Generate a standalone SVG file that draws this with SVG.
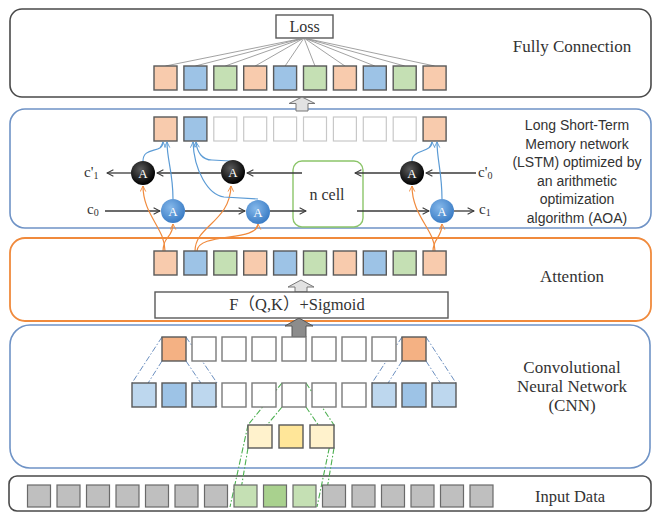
<svg xmlns="http://www.w3.org/2000/svg" width="654" height="517" viewBox="0 0 654 517">
<defs>
<style>
.serif{font-family:"Liberation Serif","Noto Sans CJK SC",serif;fill:#333}
.sans{font-family:"Liberation Sans",Arial,sans-serif;fill:#333}
.lbl{font-size:17px}
.sq{stroke:#595959;stroke-width:1.4}
.or{fill:#f8cbad}.bl{fill:#9dc3e6}.gr{fill:#c5e0b4}
.wh{fill:#fff;stroke:#c8c8c8;stroke-width:1.2}
.cw{fill:#fff;stroke:#7a7a7a;stroke-width:1.4}
.co{fill:#f4b183}.lb{fill:#bdd7ee}.ly{fill:#fff2cc}.yy{fill:#ffe699}
.gy{fill:#bfbfbf;stroke:#6a6a6a;stroke-width:1.2}
.g1{fill:#c5e0b4;stroke:#6a6a6a;stroke-width:1.2}
.g2{fill:#a9d18e;stroke:#6a6a6a;stroke-width:1.2}
.fc{stroke:#8a8a8a;stroke-width:0.8;fill:none}
.hl{stroke:#3a3a3a;stroke-width:1.3;fill:none;marker-end:url(#ak)}
.ol{stroke:#f08a3c;stroke-width:1.2;fill:none;marker-end:url(#ao)}
.bll{stroke:#5b9bd5;stroke-width:1.2;fill:none;marker-end:url(#ab)}
.bdd{stroke:#6b8fc0;stroke-width:1;fill:none;stroke-dasharray:6 2 1.5 2}
.gdd{stroke:#4caf50;stroke-width:1.1;fill:none;stroke-dasharray:6 2 1.5 2}
</style>
<marker id="ak" viewBox="0 0 10 10" refX="9" refY="5" markerWidth="8" markerHeight="8" markerUnits="userSpaceOnUse" orient="auto"><path d="M1,1 L9,5 L1,9" fill="none" stroke="#3a3a3a" stroke-width="1.3"/></marker>
<marker id="ao" viewBox="0 0 10 10" refX="9" refY="5" markerWidth="7" markerHeight="7" markerUnits="userSpaceOnUse" orient="auto"><path d="M1,1 L9,5 L1,9" fill="none" stroke="#f08a3c" stroke-width="1.3"/></marker>
<marker id="ab" viewBox="0 0 10 10" refX="9" refY="5" markerWidth="7" markerHeight="7" markerUnits="userSpaceOnUse" orient="auto"><path d="M1,1 L9,5 L1,9" fill="none" stroke="#5b9bd5" stroke-width="1.3"/></marker>
<radialGradient id="gBlack" cx="40%" cy="35%" r="65%"><stop offset="0" stop-color="#5a5a5a"/><stop offset="1" stop-color="#000"/></radialGradient>
<radialGradient id="gBlue" cx="40%" cy="35%" r="65%"><stop offset="0" stop-color="#85b8ea"/><stop offset="1" stop-color="#3b7dc6"/></radialGradient>
</defs>
<rect width="654" height="517" fill="#fff"/>

<!-- Panels -->
<g id="panel-fc"><rect x="10" y="9" width="641" height="88" rx="12" fill="none" stroke="#4a4a4a" stroke-width="1.6"/>
<text class="serif lbl" x="572" y="52" text-anchor="middle">Fully Connection</text></g>
<g id="panel-lstm"><rect x="10" y="109" width="641" height="119" rx="15" fill="none" stroke="#6f93c6" stroke-width="1.6"/>
<text class="sans" font-size="14" text-anchor="middle"><tspan x="577" y="130">Long Short-Term</tspan><tspan x="577" y="149">Memory network</tspan><tspan x="577" y="167">(LSTM) optimized by</tspan><tspan x="577" y="186">an arithmetic</tspan><tspan x="577" y="204">optimization</tspan><tspan x="577" y="223">algorithm (AOA)</tspan></text></g>
<g id="panel-attention"><rect x="10" y="238" width="641" height="83" rx="15" fill="none" stroke="#f08a3c" stroke-width="1.8"/>
<text class="serif lbl" x="572" y="282" text-anchor="middle">Attention</text></g>
<g id="panel-cnn"><rect x="10" y="325" width="640" height="143" rx="20" fill="none" stroke="#6f93c6" stroke-width="1.6"/>
<text class="serif lbl" text-anchor="middle"><tspan x="572" y="373">Convolutional</tspan><tspan x="572" y="392">Neural Network</tspan><tspan x="572" y="411">(CNN)</tspan></text></g>
<g id="panel-input"><rect x="9" y="476" width="642" height="35" rx="8" fill="none" stroke="#4a4a4a" stroke-width="1.6"/>
<text class="serif" x="570" y="502" font-size="16.5" text-anchor="middle">Input Data</text></g>

<!-- Fully connection -->
<g id="loss"><rect x="276" y="15" width="57" height="23" fill="#fff" stroke="#595959" stroke-width="1.4"/>
<text class="serif" x="304.5" y="32" font-size="16" text-anchor="middle">Loss</text></g>
<g id="fc-lines">
<path class="fc" d="M304,38 L165.5,66 M304,38 L195.4,66 M304,38 L225.3,66 M304,38 L255.2,66 M304,38 L285.1,66 M304,38 L315,66 M304,38 L344.9,66 M304,38 L374.8,66 M304,38 L404.7,66 M304,38 L434.6,66"/>
</g>
<g id="fc-squares">
<rect class="sq or" x="154" y="66" width="23" height="24"/>
<rect class="sq bl" x="183.9" y="66" width="23" height="24"/>
<rect class="sq gr" x="213.8" y="66" width="23" height="24"/>
<rect class="sq or" x="243.7" y="66" width="23" height="24"/>
<rect class="sq bl" x="273.6" y="66" width="23" height="24"/>
<rect class="sq gr" x="303.5" y="66" width="23" height="24"/>
<rect class="sq or" x="333.4" y="66" width="23" height="24"/>
<rect class="sq bl" x="363.3" y="66" width="23" height="24"/>
<rect class="sq gr" x="393.2" y="66" width="23" height="24"/>
<rect class="sq or" x="423.1" y="66" width="23" height="24"/>
</g>

<!-- block arrows -->
<g id="arrow-fc"><path d="M302,97 L315,103.5 L308,103.5 L308,111 L296,111 L296,103.5 L289,103.5 Z" fill="#e2e2e2" stroke="#777" stroke-width="1"/></g>
<g id="arrow-att"><path d="M301,280 L314,287 L307,287 L307,292 L295,292 L295,287 L288,287 Z" fill="#e2e2e2" stroke="#777" stroke-width="1"/></g>
<g id="arrow-cnn"><path d="M299,318 L313,326 L306,326 L306,337 L292,337 L292,326 L285,326 Z" fill="#8c8c8c" stroke="#555" stroke-width="1"/></g>

<!-- LSTM squares -->
<g id="lstm-squares">
<rect class="sq or" x="154" y="117" width="23" height="24"/>
<rect class="sq bl" x="183.9" y="117" width="23" height="24"/>
<rect class="wh" x="213.8" y="117" width="23" height="24"/>
<rect class="wh" x="243.7" y="117" width="23" height="24"/>
<rect class="wh" x="273.6" y="117" width="23" height="24"/>
<rect class="wh" x="303.5" y="117" width="23" height="24"/>
<rect class="wh" x="333.4" y="117" width="23" height="24"/>
<rect class="wh" x="363.3" y="117" width="23" height="24"/>
<rect class="wh" x="393.2" y="117" width="23" height="24"/>
<rect class="sq or" x="423.1" y="117" width="23" height="24"/>
</g>
<g id="ncell"><rect x="293" y="161" width="70" height="66" rx="9" fill="#fff" stroke="#8cc56a" stroke-width="1.4"/>
<text class="serif" x="327" y="200" font-size="16" text-anchor="middle">n cell</text></g>

<!-- connectors -->
<g id="connectors">
<path class="hl" d="M476,173 L426,173"/>
<path class="hl" d="M400,173 L355,173"/>
<path class="hl" d="M302,173 L247,173"/>
<path class="hl" d="M221,173 L157,173"/>
<path class="hl" d="M131,173 L107,173"/>
<path class="hl" d="M105,211 L160,211"/>
<path class="hl" d="M185,211 L245,211"/>
<path class="hl" d="M270,211 L306,211"/>
<path class="hl" d="M357,211 L429,211"/>
<path class="hl" d="M454,211 L474,211"/>
<path class="ol" d="M165,251 C165,228 143,215 143,186"/>
<path class="ol" d="M163,251 C163,236 173,238 173,224"/>
<path class="ol" d="M195,251 C195,226 230,222 231,186"/>
<path class="ol" d="M197,251 C198,232 258,242 258,224"/>
<path class="ol" d="M435,251 C435,230 412,216 412,186"/>
<path class="ol" d="M433,251 C433,238 442,238 442,224"/>
<path class="bll" d="M173,199 C173,172 167,160 167,142"/>
<path class="bll" d="M143,161 C143,146 163,154 163,142"/>
<path class="bll" d="M230,161 L212,160 C202,160 197,152 196,142"/>
<path class="bll" d="M258,199 L224,197 C208,195 194,170 193,142"/>
<path class="bll" d="M412,161 C412,149 432,153 432,142"/>
<path class="bll" d="M442,199 C442,172 437,160 437,142"/>
<path class="bdd" d="M162,337 L132,383 M162,361 L133,407 M186,337 L217,383 M186,361 L217,407"/>
<path class="bdd" d="M402,337 L372,383 M402,361 L373,407 M426,337 L456,383 M426,361 L456,407"/>
<path class="gdd" d="M282,383 L248,425 M282,407 L248,448 M306,383 L334,425 M306,407 L334,448"/>
<path class="gdd" d="M248,425 L230,507 M248,448 L238,507 M334,425 L317,507 M334,448 L324,507"/>
</g>

<!-- circles -->
<g id="black-a1"><circle cx="143" cy="173" r="12" fill="url(#gBlack)"/><text class="serif" x="143" y="178" font-size="13" text-anchor="middle" style="fill:#fff">A</text></g>
<g id="black-a2"><circle cx="233" cy="172" r="12" fill="url(#gBlack)"/><text class="serif" x="233" y="177" font-size="13" text-anchor="middle" style="fill:#fff">A</text></g>
<g id="black-a3"><circle cx="412" cy="173" r="12" fill="url(#gBlack)"/><text class="serif" x="412" y="178" font-size="13" text-anchor="middle" style="fill:#fff">A</text></g>
<g id="blue-a1"><circle cx="173" cy="211" r="12" fill="url(#gBlue)"/><text class="serif" x="173" y="216" font-size="13" text-anchor="middle" style="fill:#fff">A</text></g>
<g id="blue-a2"><circle cx="258" cy="212" r="12" fill="url(#gBlue)"/><text class="serif" x="258" y="217" font-size="13" text-anchor="middle" style="fill:#fff">A</text></g>
<g id="blue-a3"><circle cx="442" cy="211" r="12" fill="url(#gBlue)"/><text class="serif" x="442" y="216" font-size="13" text-anchor="middle" style="fill:#fff">A</text></g>

<!-- labels c -->
<g id="labels-c">
<text class="serif" x="84" y="177" font-size="15">c'<tspan font-size="10" dy="2">1</tspan></text>
<text class="serif" x="87" y="214" font-size="15">c<tspan font-size="10" dy="2">0</tspan></text>
<text class="serif" x="478" y="177" font-size="15">c'<tspan font-size="10" dy="2">0</tspan></text>
<text class="serif" x="479" y="214" font-size="15">c<tspan font-size="10" dy="2">1</tspan></text>
</g>

<!-- Attention -->
<g id="att-squares">
<rect class="sq or" x="154" y="251" width="23" height="24"/>
<rect class="sq bl" x="183.9" y="251" width="23" height="24"/>
<rect class="sq gr" x="213.8" y="251" width="23" height="24"/>
<rect class="sq or" x="243.7" y="251" width="23" height="24"/>
<rect class="sq bl" x="273.6" y="251" width="23" height="24"/>
<rect class="sq gr" x="303.5" y="251" width="23" height="24"/>
<rect class="sq or" x="333.4" y="251" width="23" height="24"/>
<rect class="sq bl" x="363.3" y="251" width="23" height="24"/>
<rect class="sq gr" x="393.2" y="251" width="23" height="24"/>
<rect class="sq or" x="423.1" y="251" width="23" height="24"/>
</g>
<g id="fqk"><rect x="155" y="292" width="293" height="26" fill="#fff" stroke="#595959" stroke-width="1.4"/>
<text class="serif" x="297" y="310" font-size="16.5" text-anchor="middle">F（Q,K）+Sigmoid</text></g>

<!-- CNN -->
<g id="cnn-top">
<rect class="sq co" x="162" y="337" width="24" height="24"/>
<rect class="cw" x="192" y="337" width="24" height="24"/>
<rect class="cw" x="222" y="337" width="24" height="24"/>
<rect class="cw" x="252" y="337" width="24" height="24"/>
<rect class="cw" x="282" y="337" width="24" height="24"/>
<rect class="cw" x="312" y="337" width="24" height="24"/>
<rect class="cw" x="342" y="337" width="24" height="24"/>
<rect class="cw" x="372" y="337" width="24" height="24"/>
<rect class="sq co" x="402" y="337" width="24" height="24"/>
</g>
<g id="cnn-mid">
<rect class="sq lb" x="132" y="383" width="24" height="24"/>
<rect class="sq bl" x="162" y="383" width="24" height="24"/>
<rect class="sq lb" x="192" y="383" width="24" height="24"/>
<rect class="cw" x="222" y="383" width="24" height="24"/>
<rect class="cw" x="252" y="383" width="24" height="24"/>
<rect class="cw" x="282" y="383" width="24" height="24"/>
<rect class="cw" x="312" y="383" width="24" height="24"/>
<rect class="cw" x="342" y="383" width="24" height="24"/>
<rect class="sq lb" x="372" y="383" width="24" height="24"/>
<rect class="sq bl" x="402" y="383" width="24" height="24"/>
<rect class="sq lb" x="432" y="383" width="24" height="24"/>
</g>
<g id="cnn-bottom">
<rect class="sq ly" x="248" y="425" width="24" height="23"/>
<rect class="sq yy" x="279" y="425" width="24" height="23"/>
<rect class="sq ly" x="310" y="425" width="24" height="23"/>
</g>

<!-- Input -->
<g id="input-squares">
<rect class="gy" x="27.5" y="485" width="23" height="22"/>
<rect class="gy" x="57" y="485" width="23" height="22"/>
<rect class="gy" x="86.5" y="485" width="23" height="22"/>
<rect class="gy" x="116" y="485" width="23" height="22"/>
<rect class="gy" x="145.5" y="485" width="23" height="22"/>
<rect class="gy" x="175" y="485" width="23" height="22"/>
<rect class="gy" x="204.5" y="485" width="23" height="22"/>
<rect class="g1" x="234" y="485" width="23" height="22"/>
<rect class="g2" x="263.5" y="485" width="23" height="22"/>
<rect class="g1" x="293" y="485" width="23" height="22"/>
<rect class="gy" x="322.5" y="485" width="23" height="22"/>
<rect class="gy" x="352" y="485" width="23" height="22"/>
<rect class="gy" x="381.5" y="485" width="23" height="22"/>
<rect class="gy" x="411" y="485" width="23" height="22"/>
<rect class="gy" x="440.5" y="485" width="23" height="22"/>
<rect class="gy" x="470" y="485" width="23" height="22"/>
</g>
</svg>
